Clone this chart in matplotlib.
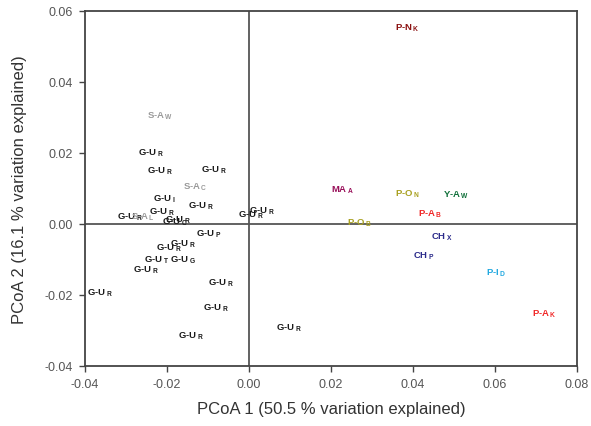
import numpy as np
import matplotlib
matplotlib.use('Agg')
import matplotlib.pyplot as plt

plt.rcParams['font.family'] = ['Liberation Sans', 'DejaVu Sans']
plt.rcParams['mathtext.fontset'] = 'custom'
plt.rcParams['mathtext.rm'] = 'Liberation Sans:bold'

# G-U samples (black labels)
gu_x = [-0.0270, -0.0248, -0.0118, -0.0235, -0.0148, -0.0245, -0.0323, -0.0211, -0.0204,
        -0.0026, 0.0001, -0.0130, -0.0228, -0.0192, -0.0255, -0.0192, -0.0282, -0.0099,
        -0.0396, -0.0111, -0.0172, 0.0065]
gu_y = [0.0203, 0.0150, 0.0153, 0.0073, 0.0054, 0.0037, 0.0023, 0.0008, 0.0014,
        0.0028, 0.0040, -0.0025, -0.0065, -0.0054, -0.0099, -0.0099, -0.0127, -0.0164,
        -0.0192, -0.0234, -0.0314, -0.0291]
gu_sub = ['R', 'R', 'R', 'I', 'R', 'R', 'R', 'C', 'R',
          'R', 'R', 'P', 'R', 'R', 'T', 'G', 'R', 'R',
          'R', 'R', 'R', 'R']

# S-A samples (grey labels)
sa_x = [-0.0250, -0.0162, -0.0289]
sa_y = [0.0305, 0.0105, 0.0023]
sa_sub = ['W', 'C', 'L']

# other species
oth_name = ['P-N', 'MA', 'P-O', 'Y-A', 'P-A', 'P-O', 'CH', 'CH', 'P-I', 'P-A']
oth_sub = ['K', 'A', 'N', 'W', 'B', 'B', 'X', 'P', 'D', 'K']
oth_x = [0.0357, 0.0199, 0.0357, 0.0472, 0.0411, 0.0240, 0.0443, 0.0399, 0.0579, 0.0691]
oth_y = [0.0554, 0.0099, 0.0088, 0.0085, 0.0031, 0.0006, -0.0034, -0.0088, -0.0136, -0.0251]
oth_col = ['#8b1010', '#99105a', '#a8a020', '#10703a', '#f02828', '#a8a020',
           '#2a2a8a', '#2a2a8a', '#20a8e0', '#f02828']

fig = plt.figure(figsize=(5.91, 4.27), dpi=100)
ax = fig.add_axes([85 / 591, 1 - 367 / 427, 492 / 591, 355 / 427])

def label(x, y, name, sub, col):
    ax.text(x, y, name + r'$\,_{\mathregular{' + sub + '}}$', color=col, fontsize=6.8,
            fontweight='bold', ha='left', va='center')

for x, y, s in zip(gu_x, gu_y, gu_sub):
    label(x, y, 'G-U', s, '#1a1a1a')
for x, y, s in zip(sa_x, sa_y, sa_sub):
    label(x, y, 'S-A', s, '#9a9a9a')
for x, y, n, s, c in zip(oth_x, oth_y, oth_name, oth_sub, oth_col):
    label(x, y, n, s, c)

ax.axhline(0, color='#555555', lw=1.3, zorder=0)
ax.axvline(0, color='#555555', lw=1.3, zorder=0)

ax.set_xlim(-0.04, 0.08)
ax.set_ylim(-0.04, 0.06)
ax.set_xticks(np.arange(-0.04, 0.081, 0.02))
ax.set_yticks(np.arange(-0.04, 0.061, 0.02))
ax.xaxis.set_major_formatter(matplotlib.ticker.FormatStrFormatter('%.2f'))
ax.yaxis.set_major_formatter(matplotlib.ticker.FormatStrFormatter('%.2f'))
for sp in ax.spines.values():
    sp.set_color('#444444')
    sp.set_linewidth(1.3)
ax.tick_params(direction='out', length=4.5, width=1, color='#444444',
               labelsize=9, labelcolor='#555555', pad=4)

ax.set_xlabel('PCoA 1 (50.5 % variation explained)', fontsize=12, color='#333333')
ax.set_ylabel('PCoA 2 (16.1 % variation explained)', fontsize=12, color='#333333')
ax.xaxis.set_label_coords(0.5, -0.098)
ax.yaxis.set_label_coords(-0.118, 0.5)

fig.savefig('out.png', dpi=100)
